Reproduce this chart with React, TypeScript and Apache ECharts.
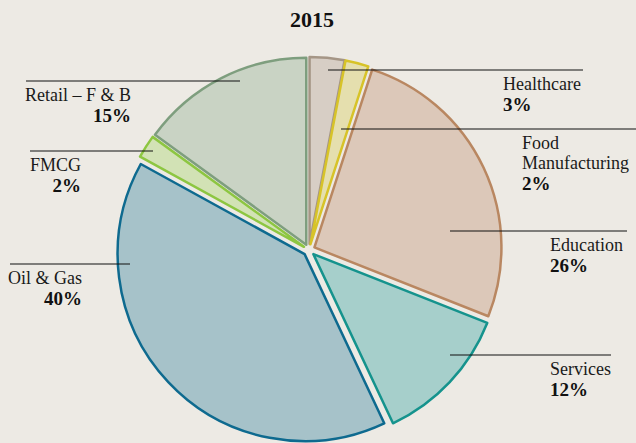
import React, { useEffect, useRef } from 'react';
import * as echarts from 'echarts';

const title = '2015';
const categories = ['Healthcare', 'Food\nManufacturing', 'Education', 'Services', 'Oil & Gas', 'FMCG', 'Retail – F & B'];
const values = [3, 2, 26, 12, 40, 2, 15];
const fillColors = ['#d7cec5', '#e5dfae', '#dcc8b9', '#a6cfcb', '#a6c2c9', '#d2e2b5', '#c9d3c4'];
const borderColors = ['#a59686', '#d7c328', '#b98761', '#15938d', '#0e6a8f', '#8dc641', '#7e9e7e'];

// label annotation layout: line start x, line end x, line y, text anchor x, text align
const labelLayoutSpec: [number, number, number, number, string][] = [
  [328, 583, 70, 503, 'left'],
  [341, 636, 129, 522, 'left'],
  [450, 627, 231, 550, 'left'],
  [450, 611, 355, 550, 'left'],
  [10, 130, 264, 82, 'right'],
  [30, 153, 151, 81, 'right'],
  [26, 240, 81, 131, 'right'],
];

const SERIF = '"Liberation Serif", "DejaVu Serif", serif';

export default function App() {
  const ref = useRef<HTMLDivElement>(null);
  useEffect(() => {
    if (!ref.current) return;
    const chart = echarts.init(ref.current, undefined, { renderer: 'svg' });
    const sliceData = categories.map((name, i) => ({
      name,
      value: values[i],
      selected: true,
      itemStyle: { color: fillColors[i], borderColor: borderColors[i] },
    }));
    const labelData = categories.map((name, i) => ({ name, value: values[i] }));
    const common = {
      type: 'pie',
      center: [309, 250],
      radius: 187,
      startAngle: 90,
      clockwise: true,
      avoidLabelOverlap: false,
      emphasis: { disabled: true },
    };
    chart.setOption({
      animation: false,
      backgroundColor: '#edeae4',
      title: {
        text: title,
        left: 307,
        top: 3,
        textAlign: 'center',
        textStyle: { fontFamily: SERIF, fontSize: 22, fontWeight: 'bold', color: '#111' },
      },
      series: [
        {
          ...common,
          z: 2,
          selectedMode: 'multiple',
          selectedOffset: 6,
          select: { itemStyle: {} },
          itemStyle: { borderWidth: 2.5, borderJoin: 'round' },
          label: { show: false },
          labelLine: { show: false },
          data: sliceData,
        },
        {
          ...common,
          z: 5,
          silent: true,
          selectedMode: false,
          itemStyle: { color: 'rgba(0,0,0,0)', borderWidth: 0 },
          data: labelData,
          label: {
            show: true,
            position: 'outside',
            formatter: (p: any) => `{n|${p.name}}\n{p|${p.value}%}`,
            rich: {
              n: { fontFamily: SERIF, fontSize: 18, lineHeight: 20, color: '#1a1a1a' },
              p: { fontFamily: SERIF, fontSize: 19, fontWeight: 'bold', lineHeight: 21, color: '#111' },
            },
          },
          labelLine: { show: true, lineStyle: { color: '#111', width: 1.2 } },
          labelLayout: (params: any) => {
            const L = labelLayoutSpec[params.dataIndex];
            return {
              x: L[3],
              y: L[2] + 4,
              align: L[4],
              verticalAlign: 'top',
              labelLinePoints: [
                [L[0], L[2]],
                [L[1], L[2]],
                [L[1], L[2]],
              ],
            };
          },
        },
      ],
    });
    return () => chart.dispose();
  }, []);
  return (
    <div style={{ position: 'fixed', left: 0, top: 0, width: 636, height: 443, background: '#edeae4' }}>
      <div ref={ref} style={{ width: 636, height: 443 }} />
    </div>
  );
}
